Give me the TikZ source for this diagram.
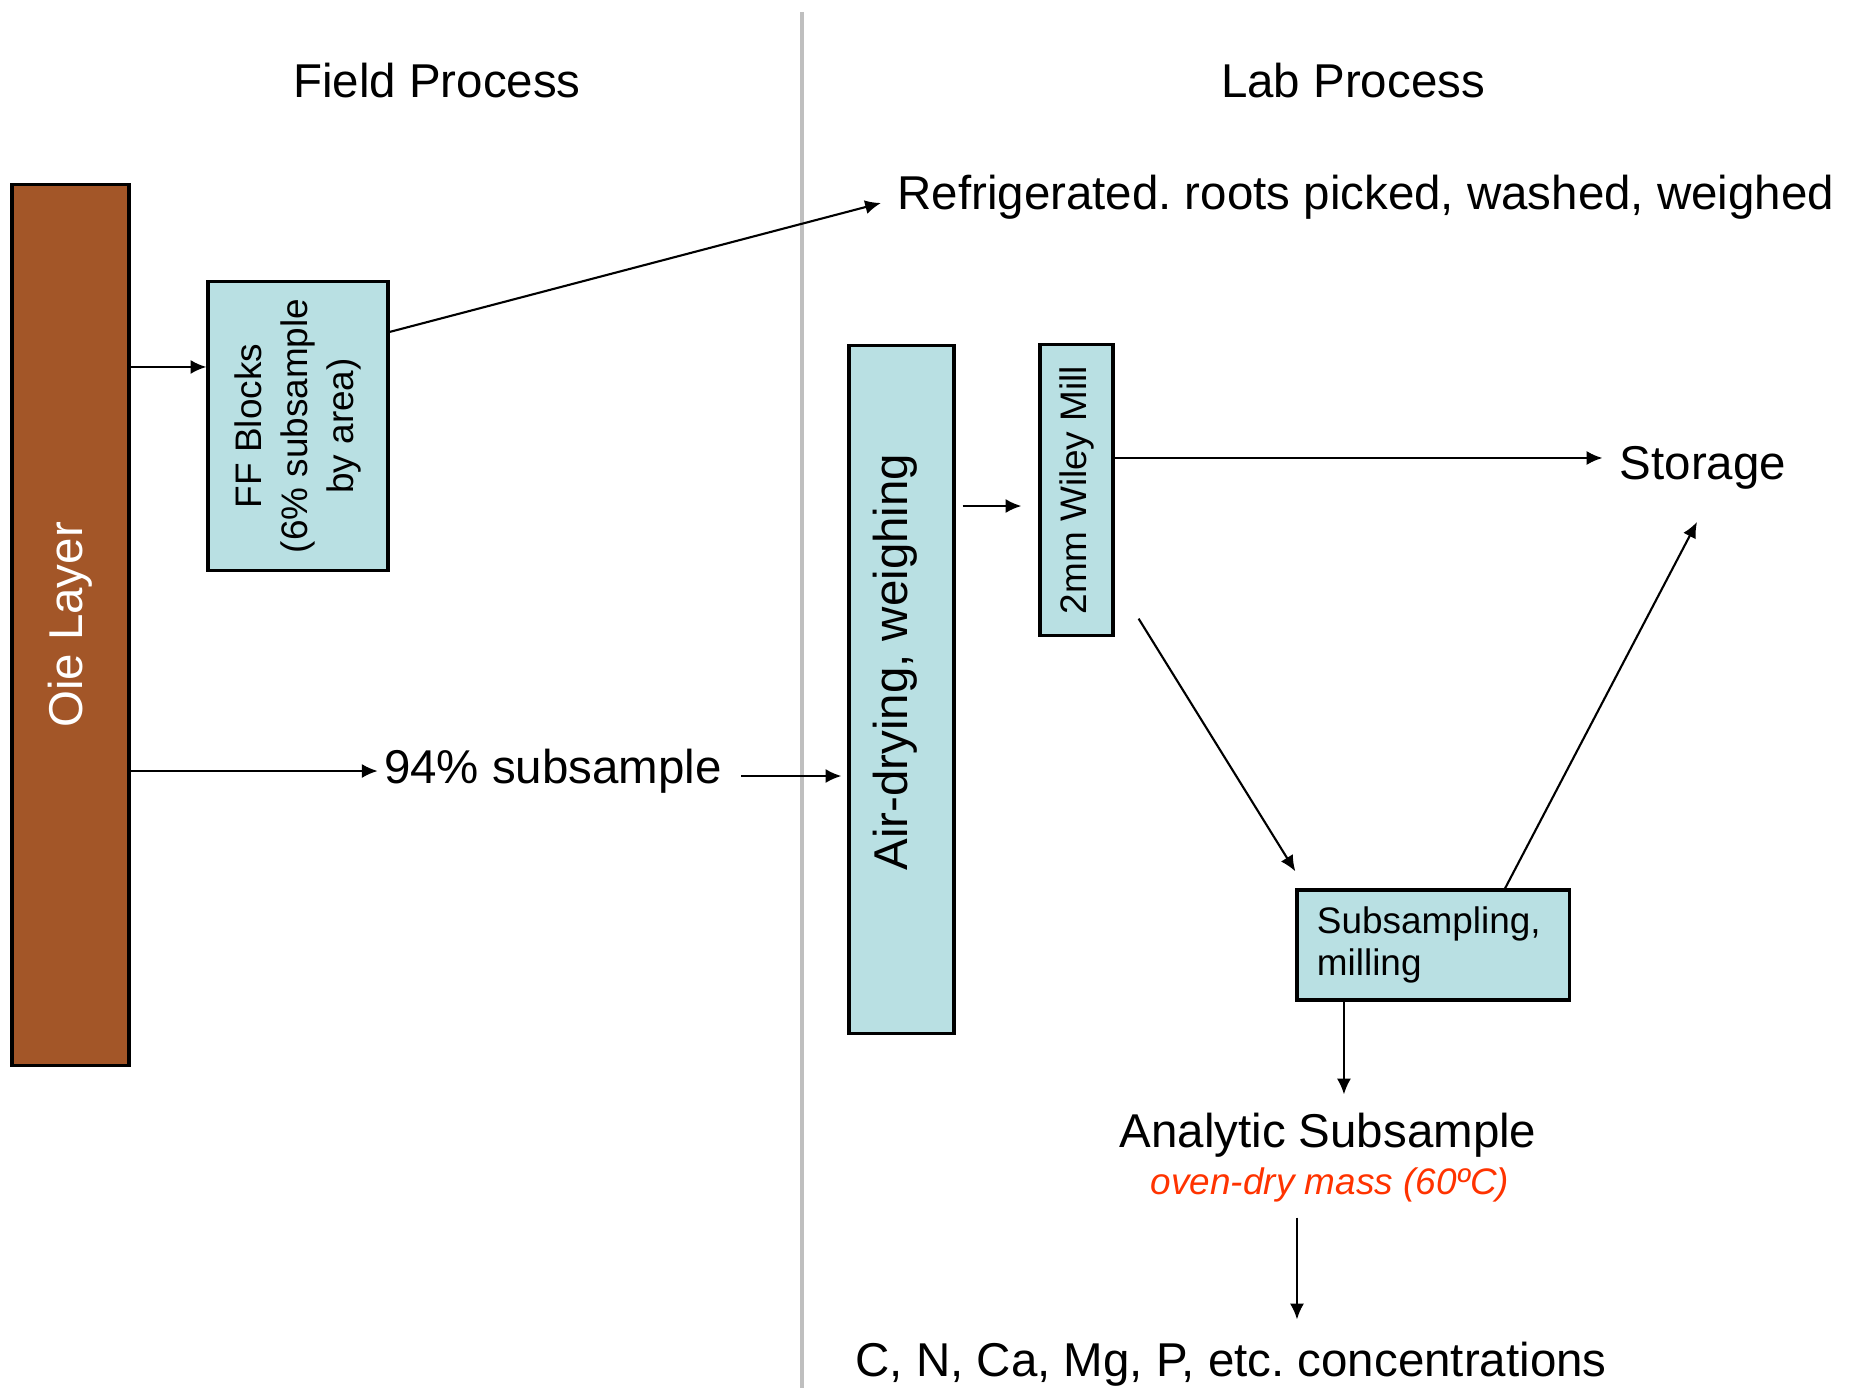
\documentclass[tikz,border=0pt]{standalone}
\usepackage{fontspec}
\setmainfont{Liberation Sans}
\usepackage{xcolor}
\usetikzlibrary{arrows, arrows.meta, positioning}
\frenchspacing

\definecolor{oiebrown}{RGB}{163,86,40}
\definecolor{boxblue}{RGB}{185,224,227}
\definecolor{ovenred}{RGB}{255,51,0}
\definecolor{divgray}{RGB}{191,191,191}

\begin{document}
\begin{tikzpicture}[
    x=0.01cm, y=-0.01cm,
    box/.style={draw, line width=0.9pt, fill=boxblue, inner sep=0pt},
    big/.style={font=\fontsize{13.5}{16}\selectfont},
    small/.style={font=\fontsize{10.5}{13}\selectfont, align=center},
    arrow/.style={-{Latex[length=4.5pt, width=4pt]}, line width=0.6pt},
    divider/.style={draw=divgray, line width=1pt}
]
    \useasboundingbox (0, 0) rectangle (1854, 1388);

    % Headings
    \node [big] (field) at (437, 81) {Field Process};
    \node [big] (lab) at (1353, 81) {Lab Process};
    \draw [divider] (802, 12) -- (802, 1388);

    % Field process
    \node [box, fill=oiebrown, minimum width=1.17cm, minimum height=8.8cm] (oie) at (70.5, 625) {};
        \node [big, white, rotate=90] (oie_text) at (oie.center) {Oie Layer};
    \node [box, minimum width=1.8cm, minimum height=2.88cm] (ff) at (298, 426) {};
        \node [small, rotate=90] (ff_text) at (ff.center) {FF Blocks\\(6\% subsample\\by area)};
    \node [big, anchor=west] (refrig) at (885, 197) {Refrigerated. roots picked, washed, weighed};
    \node [big] (sub94) at (553, 771) {94\% subsample};

    \coordinate (ff_in) at ([yshift=0.59cm]ff.west);
    \draw[arrow] (oie.east |- ff_in) -- (ff_in);
    \draw[arrow]
        ([yshift=0.94cm]ff.east)
        --
        ([shift={(-0.04cm,-0.06cm)}]refrig.west);
    \draw[arrow] (oie.east |- sub94.west) -- ([xshift=0.06cm]sub94.west);

    % Lab process
    \node [box, minimum width=1.05cm, minimum height=6.87cm] (air) at (901.5, 689.5) {};
        \node [big, rotate=90] (air_text) at (895, 662) {Air-drying, weighing};
    \node [box, minimum width=0.73cm, minimum height=2.9cm] (mill) at (1076.5, 490) {};
        \node [small, rotate=90] (mill_text) at (mill.center) {2mm Wiley Mill};
    \node [big] (storage) at (1703, 468) {Storage};
    \node [box, small, align=left, minimum width=2.72cm, minimum height=1.1cm,
        text width=2.32cm, inner xsep=0.2cm] (subs) at (1433, 945) {\raisebox{-0.04cm}{Subsampling,}\\milling};
    \node [big] (analytic) at (1328, 1135) {Analytic Subsample};
    \node [small, text=ovenred, font=\fontsize{10.5}{13}\selectfont\itshape] (oven) at (1330, 1185) {oven-dry mass (60ºC)};
    \node [big] (conc) at (1231, 1364) {C, N, Ca, Mg, P, etc. concentrations};

    \draw[arrow] ([shift={(0.07cm,-0.05cm)}]sub94.east) -- ([shift={(-0.06cm,-0.05cm)}]air.west |- sub94.east);

    \coordinate (mill_in) at ([yshift=-0.16cm]mill.west);
    \draw[arrow, shorten <=0.07cm, shorten >=0.17cm] (air.east |- mill_in) -- (mill_in);

    \coordinate (store_in) at ([yshift=0.1cm]storage.west);
    \draw[arrow] (mill.east |- store_in) -- ([xshift=-0.05cm]store_in);

    \draw[arrow]
        ([shift={(0.24cm,0.18cm)}]mill.south east)
        --
        ([yshift=0.17cm]subs.north west);

    \draw[arrow]
        ([xshift=0.72cm]subs.north)
        --
        ([shift={(-0.06cm,-0.2cm)}]storage.south);

    \coordinate (subs_out) at ([xshift=-0.89cm]subs.south);
    \draw[arrow] (subs_out) -- ([yshift=0.06cm]subs_out |- analytic.north);

    \coordinate (oven_out) at ([shift={(-0.33cm,-0.03cm)}]oven.south);
    \draw[arrow] (oven_out) -- ([yshift=0.1cm]oven_out |- conc.north);

\end{tikzpicture}
\end{document}
